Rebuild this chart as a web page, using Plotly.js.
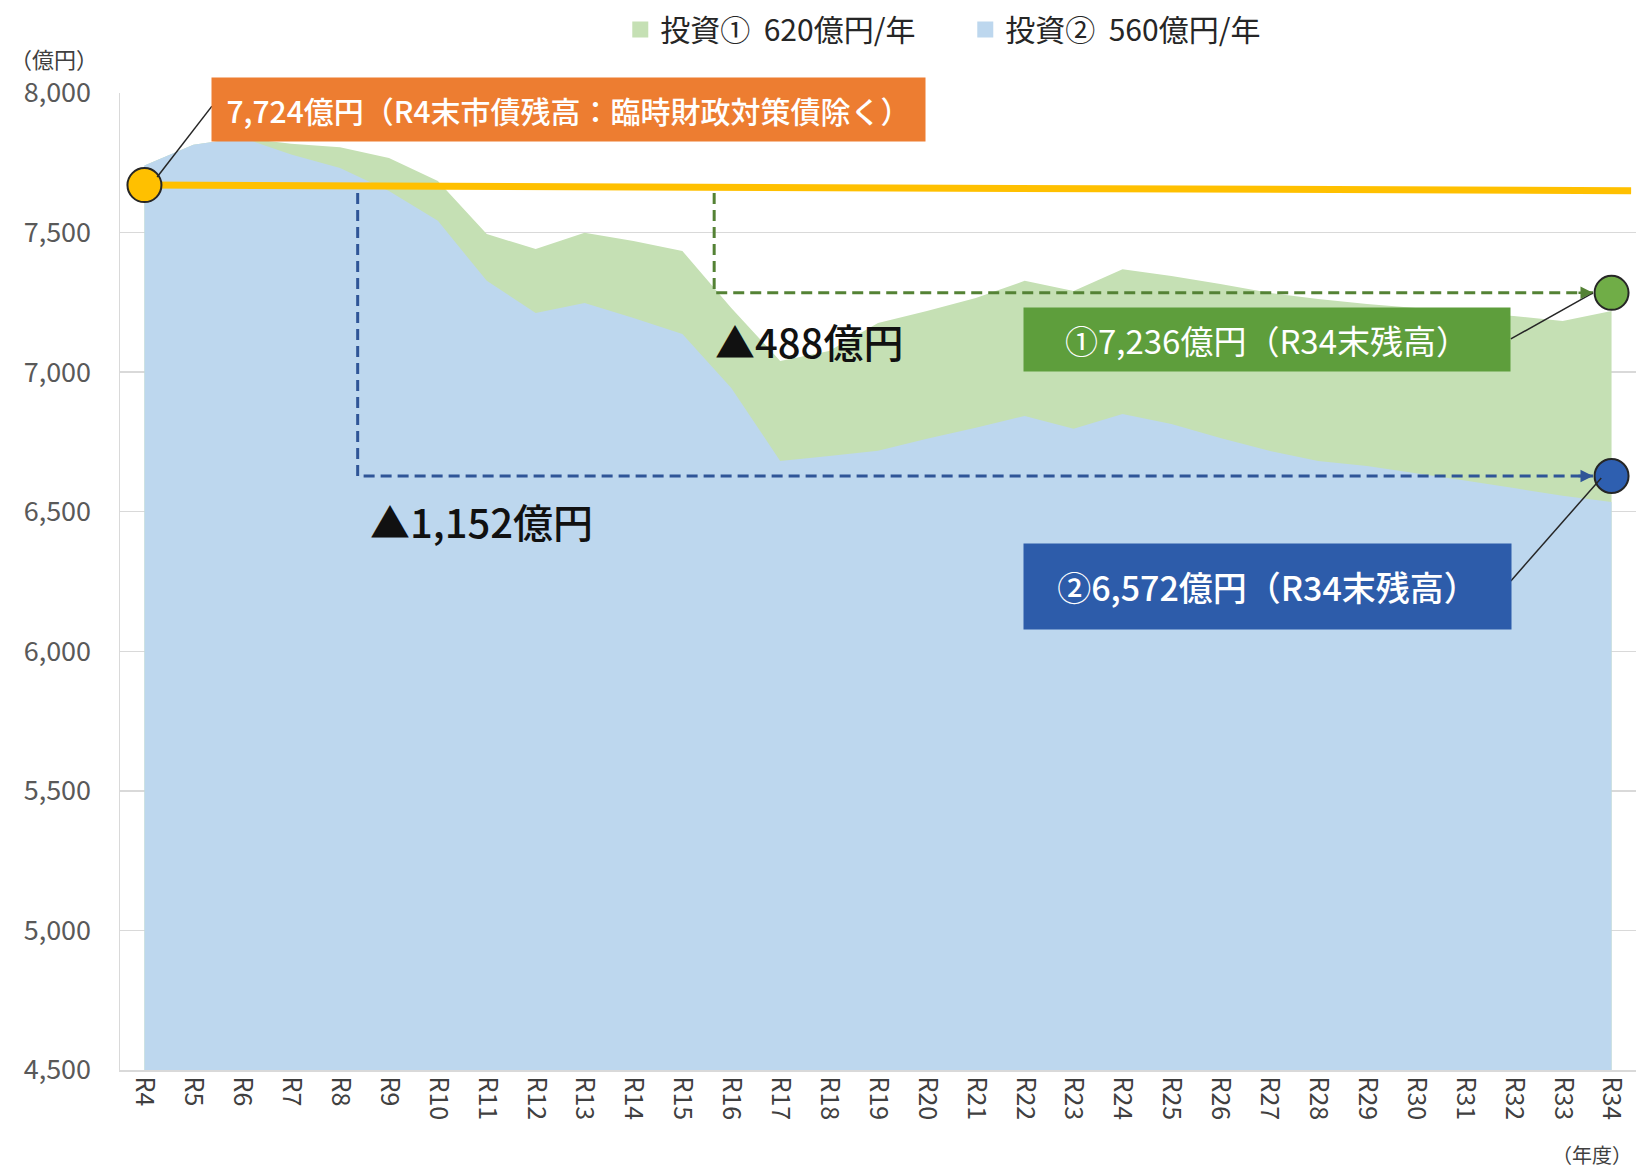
<!DOCTYPE html>
<html>
<head>
<meta charset="utf-8">
<script src="https://cdn.plot.ly/plotly-3.0.1.min.js"></script>
<style>html,body{margin:0;padding:0;background:#fff;}#chart{width:1641px;height:1169px;}</style>
</head>
<body>
<div id="chart"></div>
<script>
// ---- data ----
const years = ["R4","R5","R6","R7","R8","R9","R10","R11","R12","R13","R14","R15","R16","R17","R18","R19","R20","R21","R22","R23","R24","R25","R26","R27","R28","R29","R30","R31","R32","R33","R34"];
// 投資① 620億円/年 (upper, green)
const invest1 = [7740,7815,7840,7818,7806,7767,7685,7495,7441,7499,7470,7434,7230,7040,7076,7176,7219,7266,7327,7291,7369,7344,7316,7284,7262,7244,7230,7212,7201,7183,7219];
// 投資② 560億円/年 (lower, blue)
const invest2 = [7740,7815,7840,7780,7731,7649,7542,7327,7212,7248,7194,7137,6943,6682,6700,6718,6761,6801,6843,6797,6850,6814,6764,6718,6682,6664,6638,6612,6585,6557,6535];
// reference line : R4末市債残高
const baseX = [0, 30.4];
const baseY = [7670, 7650];
// end-point markers
const startPt = {x: 0, y: 7670};
const end1 = {x: 30, y: 7284};
const end2 = {x: 30, y: 6628};
// decrease guide lines
const guide2X = [4.36, 4.36, 29.62];
const guide2Y = [7642, 6628, 6628];
const guide1X = [11.65, 11.65, 29.62];
const guide1Y = [7642, 7284, 7284];

const legend1 = "投資①\u00a0\u00a0620億円/年";
const legend2 = "投資②\u00a0\u00a0560億円/年";
const labelStart = "7,724億円（R4末市債残高：臨時財政対策債除く）";
const label1 = "①7,236億円（R34末残高）";
const label2 = "②6,572億円（R34末残高）";
const diff1 = "▲488億円";
const diff2 = "▲1,152億円";

const idx = years.map((_, i) => i);
const F = "Noto Sans CJK JP, Noto Sans, sans-serif";
const green = "#C5E0B4", blue = "#BDD7EE";

const traces = [
  {x: idx, y: invest1, type: "scatter", mode: "none", fill: "tozeroy", fillcolor: green, showlegend: false, hoverinfo: "skip"},
  {x: idx, y: invest2, type: "scatter", mode: "none", fill: "tozeroy", fillcolor: blue, showlegend: false, hoverinfo: "skip"},
  {x: baseX, y: baseY, type: "scatter", mode: "lines", line: {color: "#FFC000", width: 7}, showlegend: false, hoverinfo: "skip"},
  {x: guide2X, y: guide2Y, type: "scatter", mode: "lines", line: {color: "#2F5597", width: 3, dash: "11px,6px"}, showlegend: false, hoverinfo: "skip"},
  {x: guide1X, y: guide1Y, type: "scatter", mode: "lines", line: {color: "#548235", width: 3, dash: "11px,6px"}, showlegend: false, hoverinfo: "skip"},
  {x: [startPt.x], y: [startPt.y], type: "scatter", mode: "markers", marker: {size: 34, color: "#FFC000", line: {color: "#262626", width: 2}}, showlegend: false, hoverinfo: "skip", cliponaxis: false},
  {x: [end1.x], y: [end1.y], type: "scatter", mode: "markers", marker: {size: 34, color: "#70AD47", line: {color: "#262626", width: 2}}, showlegend: false, hoverinfo: "skip", cliponaxis: false},
  {x: [end2.x], y: [end2.y], type: "scatter", mode: "markers", marker: {size: 34, color: "#2E5FB0", line: {color: "#262626", width: 2}}, showlegend: false, hoverinfo: "skip", cliponaxis: false},
  {x: [null], y: [null], type: "scatter", mode: "markers", name: legend1, marker: {symbol: "square", size: 17, color: green}},
  {x: [null], y: [null], type: "scatter", mode: "markers", name: legend2, marker: {symbol: "square", size: 17, color: blue}}
];

const shapes = [
  {type: "line", xref: "x", yref: "y", x0: 1.38, y0: 7953, x1: 0.26, y1: 7699, line: {color: "#262626", width: 1.5}},
  {type: "line", xref: "x", yref: "y", x0: 27.94, y0: 7119, x1: 29.62, y1: 7284, line: {color: "#262626", width: 1.5}},
  {type: "line", xref: "x", yref: "y", x0: 27.94, y0: 6252, x1: 29.79, y1: 6621, line: {color: "#262626", width: 1.5}}
];

const annotations = [
  {x: 8.68, y: 7941, xref: "x", yref: "y", text: labelStart, showarrow: false, bgcolor: "#ED7D31", width: 713, height: 63, borderpad: 0, font: {family: F, size: 30, weight: 500, color: "#ffffff"}},
  {x: 22.96, y: 7117, xref: "x", yref: "y", text: label1, showarrow: false, bgcolor: "#5E9E3C", width: 486, height: 63, borderpad: 0, font: {family: F, size: 33, color: "#ffffff"}},
  {x: 22.96, y: 6232, xref: "x", yref: "y", text: label2, showarrow: false, bgcolor: "#2D5CAA", width: 487, height: 85, borderpad: 0, font: {family: F, size: 34, weight: 500, color: "#ffffff"}},
  {x: 13.59, y: 7112, xref: "x", yref: "y", text: diff1, showarrow: false, font: {family: F, size: 40, weight: 500, color: "#111111"}},
  {x: 6.9, y: 6467, xref: "x", yref: "y", text: diff2, showarrow: false, font: {family: F, size: 40, weight: 500, color: "#111111"}},
  {x: guide1X[2], y: guide1Y[2], xref: "x", yref: "y", ax: -16, ay: 0, showarrow: true, arrowhead: 2, arrowsize: 1, arrowwidth: 2.5, arrowcolor: "#548235", text: ""},
  {x: guide2X[2], y: guide2Y[2], xref: "x", yref: "y", ax: -16, ay: 0, showarrow: true, arrowhead: 2, arrowsize: 1, arrowwidth: 2.5, arrowcolor: "#2F5597", text: ""},
  {x: -0.0435, y: 1.036, xref: "paper", yref: "paper", xanchor: "center", yanchor: "middle", text: "（億円）", showarrow: false, font: {family: F, size: 22, color: "#404040"}},
  {x: 0.971, y: -0.086, xref: "paper", yref: "paper", xanchor: "center", yanchor: "middle", text: "（年度）", showarrow: false, font: {family: F, size: 20, color: "#404040"}}
];

const layout = {
  width: 1641, height: 1169,
  margin: {l: 120, r: 5, t: 92, b: 99},
  paper_bgcolor: "#ffffff", plot_bgcolor: "#ffffff",
  font: {family: F, color: "#404040"},
  showlegend: true,
  legend: {orientation: "h", x: 0.33, xanchor: "left", y: 1.064, yanchor: "middle", font: {family: F, size: 30, color: "#262626"}, itemwidth: 30, entrywidth: 300, entrywidthmode: "pixels"},
  xaxis: {range: [-0.5, 30.5], tickmode: "array", tickvals: idx, ticktext: years, tickangle: 90, tickfont: {family: F, size: 25, color: "#404040"}, showgrid: false, zeroline: false, showline: true, linecolor: "#D9D9D9", linewidth: 1.5, ticks: "", fixedrange: true},
  yaxis: {range: [4500, 8000], dtick: 500, tick0: 4500, tickformat: ",d", tickfont: {family: F, size: 27, color: "#595959"}, gridcolor: "#D9D9D9", gridwidth: 1.5, zeroline: false, showline: true, linecolor: "#D9D9D9", linewidth: 1.5, ticks: "", ticklabelstandoff: 22, fixedrange: true},
  shapes: shapes,
  annotations: annotations
};

Plotly.newPlot("chart", traces, layout, {displayModeBar: false, staticPlot: true});
</script>
</body>
</html>
